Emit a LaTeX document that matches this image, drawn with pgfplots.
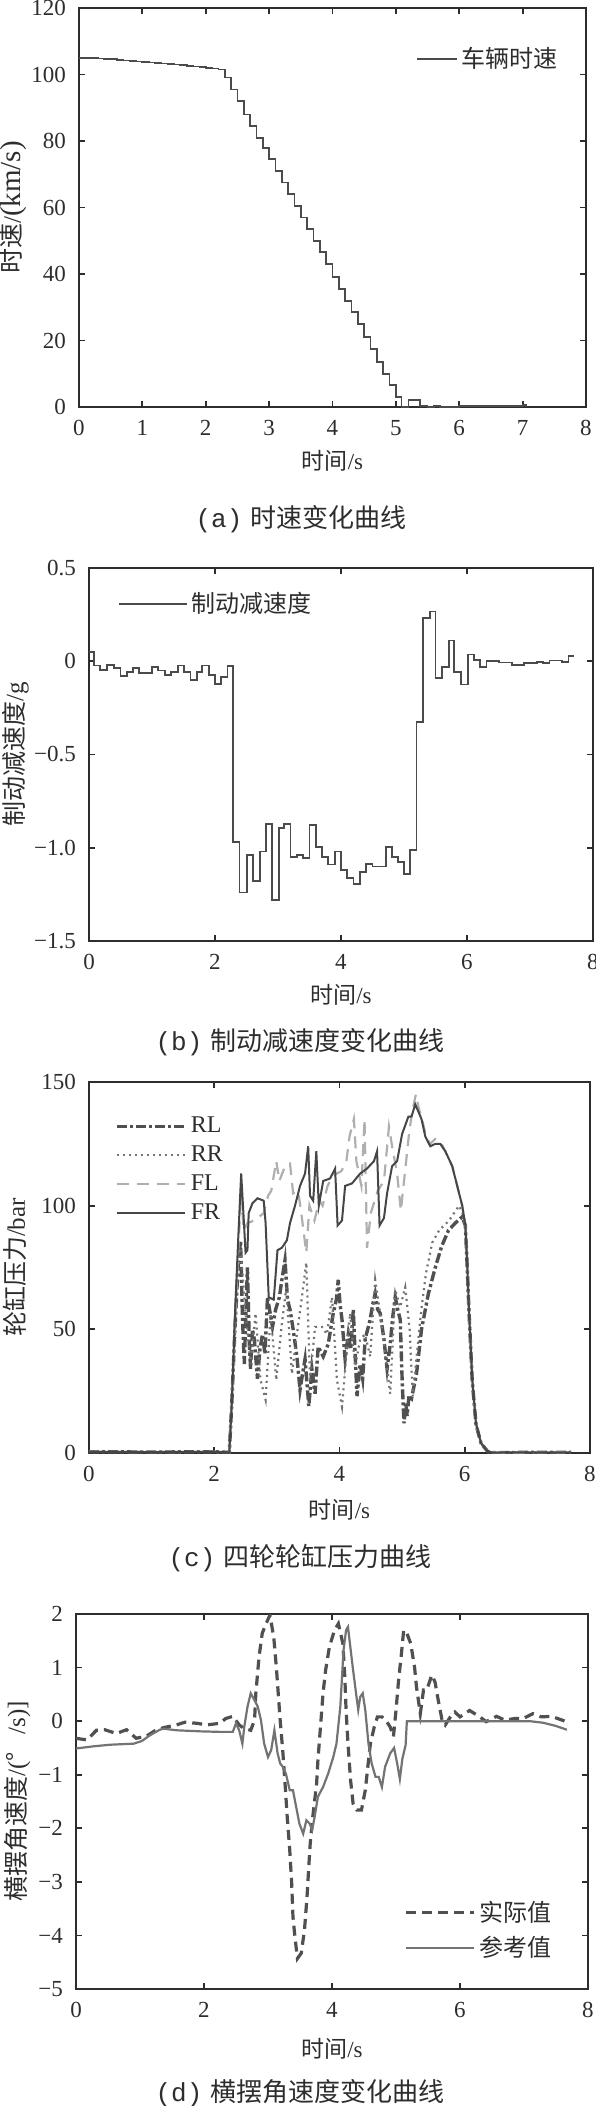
\documentclass[border=0pt]{standalone}
\usepackage{fontspec}
\setmainfont{Liberation Serif}
\newfontfamily\cjk{Noto Sans CJK SC}
\newfontfamily\mono{Liberation Mono}
\usepackage{pgfplots}
\pgfplotsset{compat=1.18}
\definecolor{ax}{RGB}{45,45,45}
\definecolor{ln}{RGB}{75,75,75}
\definecolor{rl}{RGB}{80,80,80}
\definecolor{rr}{RGB}{115,115,115}
\definecolor{fl}{RGB}{175,175,175}
\definecolor{fr}{RGB}{70,70,70}
\pgfplotsset{
 mat/.style={
  scale only axis, xmin=0, xmax=8,
  axis line style={ax, line width=1pt},
  every tick/.style={ax, line width=0.9pt},
  major tick length=3pt,
  tick align=inside,
  minor tick num=0,
  ticklabel style={font=\fontsize{11.5}{12}\selectfont, text=ax},
  /pgf/number format/assume math mode=true,
  xlabel style={font=\fontsize{11.5}{12}\selectfont, text=ax},
  ylabel style={font=\fontsize{12.5}{13}\selectfont, text=ax},
  legend style={draw=none, fill=none, font=\fontsize{12}{12}\selectfont, text=ax},
  legend cell align=left,
  xticklabel style={yshift=-3pt},
  yticklabel style={xshift=-3pt},
 },
 leg34/.style={legend image code/.code={\draw[##1] (0pt,0pt) -- (34pt,0pt);}},
}
\begin{document}
\begin{tikzpicture}
\path[use as bounding box] (0,0) rectangle (297.5pt,-1053pt);

% ---------------- (a)
\begin{axis}[mat, at={(39.5pt,-4pt)}, anchor=north west, width=253.5pt, height=199.5pt,
  ymin=0, ymax=120, xtick={0,1,...,8}, ytick={0,20,...,120},
  xlabel={{\cjk 时间}/s}, ylabel={{\cjk 时速}/{\fontsize{14.5}{15}\selectfont(km/s)}},
  xlabel style={at={(axis description cs:0.5,-0.134)}, anchor=center},
  ylabel style={at={(axis description cs:-0.129,0.5)}, anchor=center},
  legend image code/.code={\draw[#1] (0pt,0pt) -- (20pt,0pt);},
  legend style={at={(axis description cs:0.965,0.873)}, anchor=east}]
\addplot[const plot, ln, line width=0.9pt] coordinates {
(0,105) (0.1,105) (0.2,104.9) (0.3,104.8) (0.4,104.7) (0.5,104.6) (0.6,104.4) (0.7,104.2) (0.8,104.0) (0.9,103.9)
(1.0,103.7) (1.1,103.6) (1.2,103.4) (1.3,103.3) (1.4,103.1) (1.5,103.0) (1.6,102.8) (1.7,102.6) (1.8,102.4) (1.9,102.2)
(2.0,102.0) (2.1,101.8) (2.2,101.5) (2.3,99.1) (2.4,95.5) (2.5,92) (2.6,88) (2.7,84.5) (2.8,81) (2.9,78)
(3.0,74.5) (3.1,71) (3.2,67.5) (3.3,64) (3.4,60.5) (3.5,57) (3.6,53.5) (3.7,50) (3.8,46.5) (3.9,43)
(4.0,39) (4.1,35.5) (4.2,31.8) (4.3,28.5) (4.4,25) (4.5,21) (4.6,17.5) (4.7,13.5) (4.8,10) (4.9,6.5)
(5.0,3) (5.09,0) (5.2,2.0) (5.38,0.4) (5.5,0.1) (5.6,0.3) (5.7,0.1) (6.0,0.4) (6.1,0.2) (6.5,0.3) (6.9,0.2) (7.0,0.5) (7.05,0)};
\addlegendentry{{\cjk 车辆时速}}
\end{axis}

% ---------------- (b)
\begin{axis}[mat, leg34, at={(44.5pt,-284pt)}, anchor=north west, width=252pt, height=186.5pt,
  ymin=-1.5, ymax=0.5, xtick={0,2,...,8}, ytick={-1.5,-1,-0.5,0,0.5},
  yticklabels={−1.5,−1.0,−0.5,0,0.5},
  xlabel={{\cjk 时间}/s}, ylabel={{\cjk 制动减速度}/g},
  xlabel style={at={(axis description cs:0.5,-0.145)}, anchor=center},
  ylabel style={at={(axis description cs:-0.146,0.5)}, anchor=center},
  legend style={at={(axis description cs:0.045,0.903)}, anchor=west}]
\addplot[const plot, ln, line width=0.9pt] coordinates {
(0,0.048) (0.08,-0.023) (0.18,-0.046) (0.29,-0.018) (0.40,-0.036) (0.50,-0.077) (0.60,-0.059) (0.70,-0.036) (0.80,-0.063)
(1.0,-0.032) (1.1,-0.05) (1.21,-0.072) (1.30,-0.059) (1.41,-0.023) (1.51,-0.059) (1.61,-0.1) (1.71,-0.059) (1.80,-0.023)
(1.91,-0.072) (2.0,-0.12) (2.10,-0.086) (2.20,-0.027) (2.29,-0.97) (2.39,-1.24) (2.51,-1.04) (2.60,-1.18) (2.71,-1.02)
(2.81,-0.873) (2.90,-1.28) (3.01,-0.896) (3.10,-0.873) (3.20,-1.05) (3.30,-1.04) (3.40,-1.055) (3.50,-0.88) (3.60,-0.995)
(3.70,-1.05) (3.80,-1.09) (3.90,-1.02) (4.0,-1.12) (4.1,-1.16) (4.2,-1.195) (4.3,-1.13) (4.4,-1.085) (4.5,-1.10)
(4.71,-0.995) (4.81,-1.05) (4.91,-1.075) (5.0,-1.14) (5.1,-1.01) (5.2,-0.327) (5.3,0.233) (5.41,0.267) (5.50,-0.089)
(5.60,-0.032) (5.71,0.111) (5.80,-0.059) (5.91,-0.125) (6.01,0.036) (6.11,0.007) (6.21,-0.029) (6.31,0.0) (6.51,-0.007)
(6.71,-0.018) (6.91,-0.011) (7.11,-0.002) (7.21,-0.009) (7.31,0.004) (7.51,-0.005) (7.61,0.03) (7.70,0.03)};
\addlegendentry{{\cjk 制动减速度}}
\end{axis}

% ---------------- (c)
\begin{axis}[mat, leg34, at={(44.5pt,-541pt)}, anchor=north west, width=250.5pt, height=185.5pt,
  ymin=0, ymax=150, xtick={0,2,...,8}, ytick={0,50,100,150},
  xlabel={{\cjk 时间}/s}, ylabel={{\cjk 轮缸压力}/bar},
  xlabel style={at={(axis description cs:0.5,-0.154)}, anchor=center},
  ylabel style={at={(axis description cs:-0.147,0.5)}, anchor=center},
  legend style={at={(axis description cs:0.04,0.764)}, anchor=west, row sep=1pt}]
\addplot[rl, line width=1.7pt, dash pattern=on 5pt off 1.5pt on 1.5pt off 1.5pt] coordinates {
(0,0.5) (1,0.4) (2,0.5) (2.2,0.3) (2.24,0) (2.28,20) (2.33,50) (2.38,75) (2.42,86) (2.45,55) (2.48,36) (2.51,60) (2.53,75)
(2.56,45) (2.58,34) (2.61,50) (2.64,46) (2.69,30) (2.73,42) (2.77,48) (2.81,40) (2.85,63) (2.93,51) (2.98,58) (3.04,63)
(3.08,70) (3.13,78) (3.17,62) (3.21,58) (3.26,50) (3.32,39) (3.37,25.5) (3.41,32) (3.45,38) (3.51,19) (3.56,34)
(3.61,24) (3.66,43) (3.74,39) (3.82,44) (3.90,56.5) (3.95,62) (3.98,70) (4.01,60) (4.04,54) (4.09,38) (4.14,48) (4.18,42)
(4.22,58) (4.25,40) (4.28,23) (4.33,36) (4.37,30) (4.41,46) (4.49,54) (4.53,60) (4.57,64.5) (4.61,58) (4.65,56.5) (4.71,46)
(4.76,34) (4.81,44) (4.85,55) (4.89,63) (4.93,58) (4.97,54) (5.0,30) (5.03,12) (5.06,20) (5.08,15) (5.11,23) (5.15,22)
(5.23,32) (5.31,50) (5.42,64.5) (5.53,75) (5.63,83.5) (5.74,90) (5.85,93) (5.96,95.5) (6.01,92) (6.04,75) (6.07,56)
(6.12,29) (6.18,11.5) (6.26,4) (6.37,0.5) (6.45,0.2) (7.7,0.3)};
\addlegendentry{RL}
\addplot[rr, line width=1.1pt, dash pattern=on 1pt off 2pt] coordinates {
(0,0.5) (1,0.4) (2,0.5) (2.2,0.3) (2.24,0) (2.28,20) (2.33,50) (2.38,75) (2.42,83) (2.50,56.5) (2.58,36) (2.66,56.5)
(2.74,29.5) (2.82,21.5) (2.90,56.5) (2.99,29.5) (3.07,50) (3.15,67) (3.24,32) (3.32,48) (3.40,63) (3.47,77) (3.53,29.5)
(3.61,51) (3.72,51) (3.80,48) (3.88,63) (3.96,29.5) (4.04,18.7) (4.12,43) (4.17,56.5) (4.25,35) (4.33,46) (4.41,48)
(4.49,39) (4.57,70) (4.65,56.5) (4.73,40) (4.81,24) (4.89,66) (4.97,59) (5.05,67) (5.12,50) (5.17,23) (5.22,36)
(5.30,56.5) (5.38,72.5) (5.48,85) (5.59,90) (5.75,94) (5.91,100) (5.99,95.5) (6.02,88) (6.05,72) (6.08,54) (6.12,29)
(6.18,11.5) (6.26,4) (6.37,0.5) (6.45,0.2) (7.7,0.3)};
\addlegendentry{RR}
\addplot[fl, line width=1.1pt, dash pattern=on 6pt off 4pt] coordinates {
(0,0.5) (1,0.4) (2,0.5) (2.2,0.3) (2.24,0) (2.28,20) (2.33,50) (2.38,80) (2.43,105) (2.47,90) (2.53,93) (2.64,94)
(2.79,97) (2.86,104) (2.91,106) (2.99,118) (3.04,110) (3.13,116) (3.21,117) (3.26,105) (3.34,106) (3.39,97) (3.47,81)
(3.52,100) (3.60,94) (3.68,102) (3.73,100) (3.81,108) (3.89,112) (4.03,114) (4.11,118) (4.16,128) (4.23,135) (4.27,118)
(4.35,108) (4.40,135) (4.44,83) (4.50,97) (4.61,106) (4.71,110) (4.79,132) (4.84,124) (4.92,113) (4.98,98) (5.06,117)
(5.11,129) (5.16,138) (5.22,145) (5.27,139) (5.32,135) (5.38,128) (5.45,125) (5.53,127) (5.61,126) (5.69,122) (5.80,116)
(5.88,108) (5.96,100) (6.01,92) (6.04,75) (6.07,56) (6.12,29) (6.18,11.5) (6.26,4) (6.37,0.5) (6.45,0.2) (7.7,0.3)};
\addlegendentry{FL}
\addplot[fr, line width=1pt] coordinates {
(0,0.5) (1,0.4) (2,0.5) (2.2,0.3) (2.24,0) (2.28,20) (2.33,55) (2.38,85) (2.43,113) (2.47,95) (2.50,81) (2.53,82)
(2.55,97) (2.61,101) (2.69,103) (2.79,102) (2.82,93) (2.87,63) (2.95,62) (3.01,82) (3.08,83) (3.16,86) (3.21,93)
(3.29,100) (3.37,108) (3.45,113) (3.50,124) (3.53,104) (3.58,102) (3.63,122) (3.67,100) (3.74,110) (3.85,111)
(3.93,115) (3.97,92) (4.04,94) (4.09,108) (4.20,109) (4.33,113) (4.44,115) (4.55,118) (4.60,122) (4.64,92) (4.71,95)
(4.76,105) (4.84,116) (4.92,118) (5.0,129) (5.10,136) (5.15,136) (5.21,141) (5.26,138) (5.31,135) (5.37,128) (5.45,124)
(5.53,125) (5.61,125) (5.69,122) (5.80,116) (5.88,108) (5.96,100) (6.01,92) (6.04,75.5) (6.07,56.8) (6.12,29.8)
(6.18,12) (6.26,4) (6.37,0.5) (6.45,0.2) (7.7,0.3)};
\addlegendentry{FR}
\end{axis}

% ---------------- (d)
\begin{axis}[mat, leg34, at={(38pt,-807pt)}, anchor=north west, width=256pt, height=187.5pt,
  ymin=-5, ymax=2, xtick={0,2,...,8}, ytick={-5,-4,...,2},
  yticklabels={−5,−4,−3,−2,−1,0,1,2},
  xlabel={{\cjk 时间}/s}, ylabel={{\cjk 横摆角速度}/({\cjk °}\hspace{9pt}/s)]},
  xlabel style={at={(axis description cs:0.5,-0.16)}, anchor=center},
  ylabel style={at={(axis description cs:-0.115,0.5)}, anchor=center},
  legend style={at={(axis description cs:0.95,0.157)}, anchor=east, row sep=2pt}]
\addplot[rl, line width=1.6pt, dash pattern=on 5pt off 3pt] coordinates {
(0,-0.32) (0.17,-0.35) (0.32,-0.17) (0.45,-0.16) (0.63,-0.23) (0.79,-0.16) (0.94,-0.32) (1.1,-0.28) (1.23,-0.18)
(1.37,-0.12) (1.57,-0.07) (1.70,-0.02) (1.89,-0.04) (2.04,-0.07) (2.25,-0.04) (2.34,0.05) (2.45,0.09) (2.55,-0.07)
(2.63,-0.14) (2.73,-0.17) (2.79,0.02) (2.81,0.52) (2.86,1.2) (2.91,1.64) (2.97,1.82) (3.03,1.98) (3.09,1.57) (3.13,1.01)
(3.16,0.52) (3.19,0.02) (3.23,-0.54) (3.27,-1.23) (3.30,-1.78) (3.34,-2.41) (3.37,-3.03) (3.39,-3.65) (3.42,-4.02)
(3.46,-4.43) (3.52,-4.33) (3.57,-3.9) (3.61,-3.28) (3.64,-2.66) (3.66,-2.28) (3.70,-1.78) (3.76,-1.16) (3.78,-0.73)
(3.82,-0.11) (3.86,0.52) (3.90,0.95) (3.96,1.39) (4.04,1.70) (4.10,1.82) (4.17,1.45) (4.20,0.83) (4.22,0.21)
(4.25,-0.42) (4.29,-1.1) (4.33,-1.54) (4.39,-1.66) (4.46,-1.66) (4.52,-1.29) (4.56,-0.85) (4.60,-0.42) (4.66,-0.11)
(4.71,0.08) (4.78,0.08) (4.85,0.0) (4.91,-0.11) (4.96,-0.29) (5.0,0.2) (5.04,0.76) (5.08,1.2) (5.12,1.7) (5.17,1.64)
(5.23,1.45) (5.29,1.01) (5.32,0.64) (5.38,0.14) (5.43,0.58) (5.48,0.58) (5.56,0.86) (5.61,0.73) (5.66,0.39) (5.72,0.02)
(5.77,-0.07) (5.85,0.08) (5.92,0.17) (6.0,0.08) (6.15,0.2) (6.31,0.08) (6.41,-0.01) (6.57,0.09) (6.70,0.02) (6.86,0.05)
(6.99,0.05) (7.14,0.14) (7.27,0.08) (7.43,0.09) (7.64,0.0)};
\addlegendentry{{\cjk 实际值}}
\addplot[rr, line width=1.1pt] coordinates {
(0,-0.51) (0.27,-0.47) (0.53,-0.44) (0.9,-0.42) (1.03,-0.37) (1.16,-0.26) (1.31,-0.16) (1.37,-0.14) (1.57,-0.17)
(1.94,-0.19) (2.25,-0.2) (2.45,-0.2) (2.50,-0.04) (2.55,-0.17) (2.60,-0.42) (2.63,-0.1) (2.68,0.27) (2.73,0.52)
(2.79,0.39) (2.84,0.27) (2.89,0.02) (2.94,-0.42) (3.0,-0.67) (3.05,-0.54) (3.10,-0.17) (3.15,-0.6) (3.19,-0.79)
(3.23,-0.85) (3.28,-0.98) (3.34,-1.29) (3.39,-1.29) (3.44,-1.6) (3.49,-1.91) (3.55,-2.1) (3.60,-1.85) (3.65,-1.91)
(3.69,-2.03) (3.73,-1.78) (3.78,-1.41) (3.86,-1.23) (3.94,-0.98) (4.02,-0.67) (4.07,-0.42) (4.13,0.27) (4.18,1.32)
(4.22,1.70) (4.25,1.76) (4.28,1.45) (4.33,0.95) (4.39,0.39) (4.41,0.21) (4.44,0.45) (4.48,0.52) (4.52,0.21) (4.57,-0.42)
(4.62,-0.79) (4.68,-1.04) (4.73,-1.04) (4.78,-1.23) (4.83,-0.85) (4.91,-0.6) (4.97,-0.5) (5.02,-0.8) (5.06,-1.08)
(5.10,-0.7) (5.15,-0.45) (5.17,0) (7.09,0) (7.3,-0.03) (7.5,-0.09) (7.67,-0.16)};
\addlegendentry{{\cjk 参考值}}
\end{axis}

% captions
\node[font=\fontsize{13}{13}\selectfont, text=ax] at (150.5pt,-259.5pt) {{\mono (a)}\hspace{4pt}{\cjk 时速变化曲线}};
\node[font=\fontsize{13}{13}\selectfont, text=ax] at (150pt,-521pt) {{\mono (b)}\hspace{4pt}{\cjk 制动减速度变化曲线}};
\node[font=\fontsize{13}{13}\selectfont, text=ax] at (150pt,-779pt) {{\mono (c)}\hspace{4pt}{\cjk 四轮轮缸压力曲线}};
\node[font=\fontsize{13}{13}\selectfont, text=ax] at (150pt,-1046.5pt) {{\mono (d)}\hspace{4pt}{\cjk 横摆角速度变化曲线}};
\end{tikzpicture}
\end{document}
